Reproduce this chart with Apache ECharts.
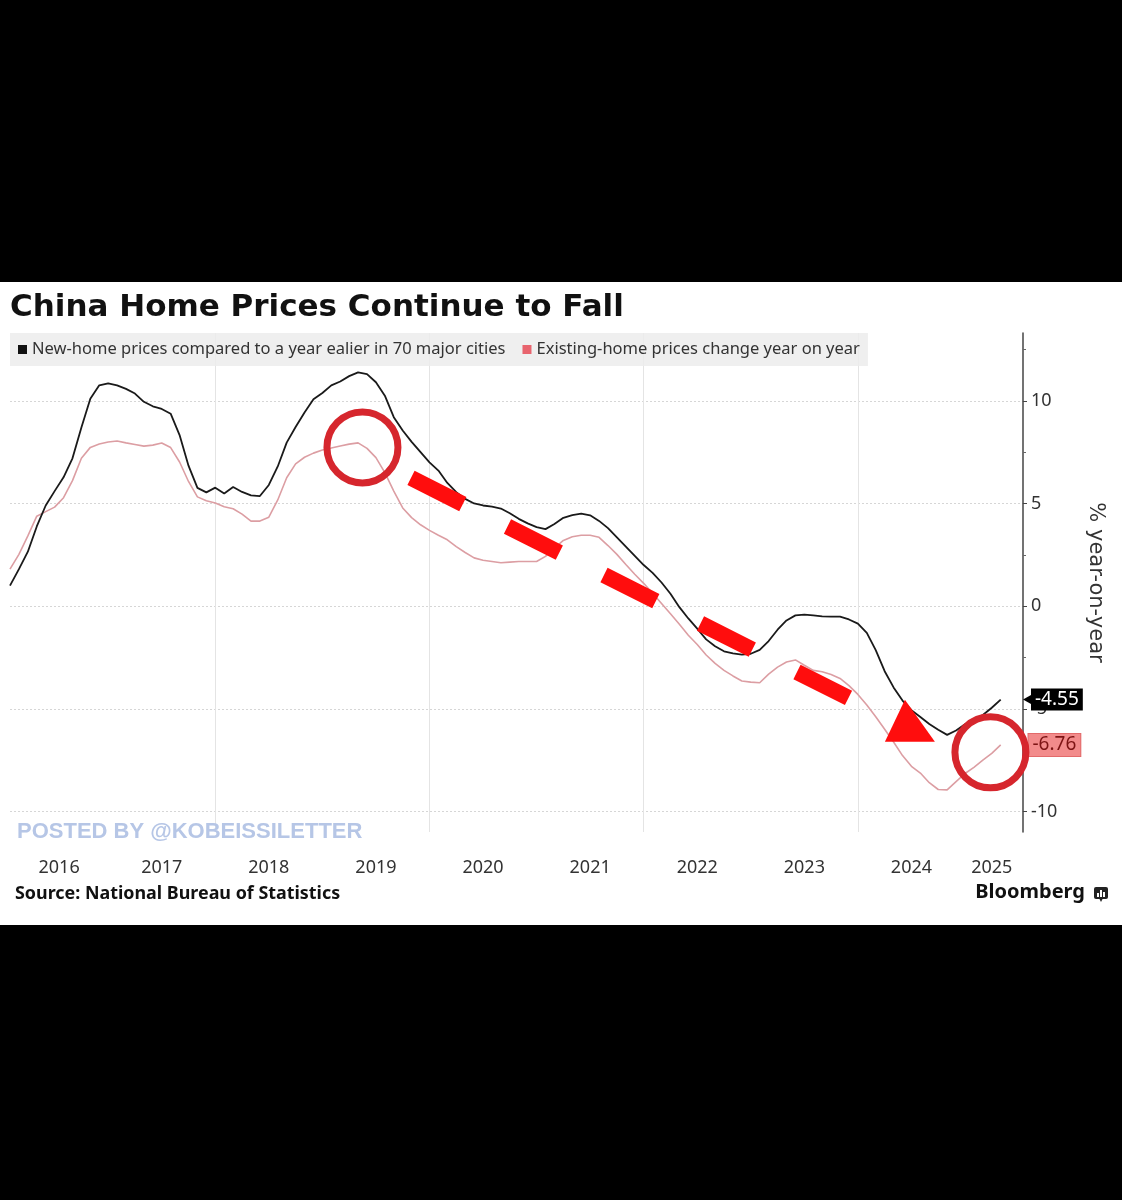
<!DOCTYPE html>
<html>
<head>
<meta charset="utf-8">
<title>China Home Prices Continue to Fall</title>
<script src="https://cdn.jsdelivr.net/npm/echarts@6/dist/echarts.min.js"></script>
<style>
  html, body { margin: 0; padding: 0; background: #000; }
  #page { position: relative; width: 1122px; height: 1200px; background: #000; }
  #main { position: absolute; left: 0; top: 282px; width: 1122px; height: 643px; background: #fff; }
</style>
</head>
<body>
<div id="page"><div id="main"></div></div>
<script>
// x = months counted from Jan 2016 (0), first point is Feb 2016
const firstMonth = 1;
const xMax = 114.5;

// new-home prices, % yoy, 70 major cities
const newHome = [
  1.0, 1.8, 2.65, 3.88, 4.9, 5.6, 6.27, 7.2, 8.7, 10.1,
  10.75, 10.85, 10.75, 10.58, 10.35, 9.95, 9.73, 9.6, 9.37, 8.33,
  6.84, 5.76, 5.54, 5.77, 5.48, 5.8, 5.56, 5.39, 5.36, 5.9,
  6.8, 7.96, 8.72, 9.43, 10.07, 10.38, 10.75, 10.94, 11.2, 11.38,
  11.3, 10.9, 10.25, 9.2, 8.55, 8.0, 7.5, 7.0, 6.6, 6.0,
  5.55, 5.22, 5.0, 4.9, 4.84, 4.75, 4.52, 4.25, 4.03, 3.85,
  3.75, 4.0, 4.3, 4.43, 4.5, 4.42, 4.15, 3.8, 3.35, 2.9,
  2.45, 2.0, 1.62, 1.15, 0.6, -0.05, -0.6, -1.1, -1.62, -1.95,
  -2.2, -2.3, -2.36, -2.32, -2.13, -1.7, -1.15, -0.7, -0.45, -0.41,
  -0.45, -0.5, -0.51, -0.51, -0.65, -0.85, -1.3, -2.14, -3.17, -3.96,
  -4.6, -5.07, -5.4, -5.74, -6.02, -6.27, -6.06, -5.75, -5.53, -5.3,
  -4.95, -4.55
];

// existing-home prices, % yoy
const existingHome = [
  1.8, 2.52, 3.42, 4.38, 4.6, 4.82, 5.28, 6.11, 7.2, 7.73,
  7.89, 7.99, 8.04, 7.95, 7.87, 7.79, 7.84, 7.94, 7.72, 7.02,
  6.07, 5.32, 5.13, 5.02, 4.84, 4.74, 4.48, 4.14, 4.14, 4.33,
  5.17, 6.25, 6.93, 7.25, 7.45, 7.6, 7.7, 7.8, 7.89, 7.95,
  7.68, 7.23, 6.5, 5.6, 4.78, 4.31, 3.96, 3.69, 3.45, 3.23,
  2.9, 2.61, 2.35, 2.23, 2.17, 2.11, 2.14, 2.17, 2.17, 2.17,
  2.42, 2.82, 3.2, 3.38, 3.45, 3.45, 3.35, 2.95, 2.52, 2.03,
  1.55, 1.11, 0.63, 0.13, -0.37, -0.88, -1.42, -1.87, -2.38, -2.79,
  -3.13, -3.4, -3.65, -3.7, -3.73, -3.31, -2.97, -2.72, -2.62, -2.88,
  -3.13, -3.2, -3.33, -3.52, -3.87, -4.3, -4.82, -5.39, -6.0, -6.62,
  -7.28, -7.8, -8.13, -8.6, -8.93, -8.95, -8.55, -8.15, -7.85, -7.5,
  -7.17, -6.76
];

const yearLabelMonths = [6.5, 18, 30, 42, 54, 66, 78, 90, 102, 111];
const yearLineMonths = [24, 48, 72, 96];
const yTicks = [-10, -5, 0, 5, 10];
const yMinorTicks = [-7.5, -2.5, 2.5, 7.5, 12.5];

// the red hand-drawn marks, in chart units [month, %]
const circleMarks = [[40.49, 7.73], [110.85, -7.12]];
const arrowLine = [[45.93, 6.24], [94.95, -4.47]];
const arrowHead = [[99.03, -6.61], [101.27, -4.56], [104.63, -6.61]];

const pairs = arr => arr.map((v, i) => [firstMonth + i, v]);
const lastOf = arr => arr[arr.length - 1];

const chart = echarts.init(document.getElementById('main'));

chart.setOption({
  animation: false,
  backgroundColor: '#fff',
  textStyle: { fontFamily: 'Noto Sans' },
  title: {
    text: 'China Home Prices Continue to Fall',
    left: 10, top: 10, padding: 0,
    textStyle: { fontSize: 31, fontWeight: 'bold', color: '#111', fontFamily: 'DejaVu Sans' }
  },
  legend: {
    left: 10, top: 51,
    padding: [8, 8, 8, 8],
    backgroundColor: 'rgba(236,236,236,0.85)',
    icon: 'rect', itemWidth: 9, itemHeight: 9, itemGap: 17,
    textStyle: { fontSize: 16.5, color: '#333', fontFamily: 'Noto Sans' },
    data: ['New-home prices compared to a year ealier in 70 major cities', 'Existing-home prices change year on year']
  },
  grid: { left: 10, right: 99, top: 51, bottom: 93 },
  xAxis: {
    type: 'value', min: firstMonth, max: xMax,
    axisLine: { show: false },
    axisTick: { show: false, customValues: yearLineMonths },
    axisLabel: {
      customValues: yearLabelMonths,
      formatter: v => String(2016 + Math.floor(v / 12)),
      margin: 27, fontSize: 18, color: '#333'
    },
    splitLine: { show: true, lineStyle: { color: '#e4e4e4', width: 1 } }
  },
  yAxis: [{
    type: 'value', position: 'right', min: -11, max: 13.3,
    name: '% year-on-year', nameLocation: 'middle', nameRotate: -90, nameGap: 62,
    nameTextStyle: { fontSize: 21, color: '#333', fontFamily: 'DejaVu Sans' },
    axisLine: { show: true, lineStyle: { color: '#444', width: 1.5 } },
    axisTick: { show: true, length: 4, customValues: yTicks, lineStyle: { color: '#444' } },
    axisLabel: { customValues: yTicks, margin: 8, fontSize: 18, color: '#333' },
    splitLine: { show: true, lineStyle: { color: '#d6d6d6', type: [2, 2] } }
  }, {
    type: 'value', position: 'right', min: -11, max: 13.3,
    axisLine: { show: false },
    axisTick: { show: true, length: 3, customValues: yMinorTicks, lineStyle: { color: '#666' } },
    axisLabel: { show: false },
    splitLine: { show: false }
  }],
  series: [{
    name: 'New-home prices compared to a year ealier in 70 major cities',
    type: 'line', showSymbol: false, z: 3,
    data: pairs(newHome),
    itemStyle: { color: '#111' },
    lineStyle: { color: '#1a1a1a', width: 1.8 },
    markPoint: {
      silent: true,
      symbol: 'triangle', symbolSize: [9, 8], symbolRotate: 90, symbolOffset: [4, 0],
      itemStyle: { color: '#000' },
      label: {
        show: true, position: 'right', distance: 0,
        formatter: p => p.value.toFixed(2),
        backgroundColor: '#000', color: '#fff', fontSize: 19, padding: [2, 4, 1, 4]
      },
      data: [{ coord: [xMax, lastOf(newHome)], value: lastOf(newHome) }]
    }
  }, {
    name: 'Existing-home prices change year on year',
    type: 'line', showSymbol: false, z: 2,
    data: pairs(existingHome),
    itemStyle: { color: '#e8646e' },
    lineStyle: { color: '#dc9ea3', width: 1.6 },
    markPoint: {
      silent: true,
      symbol: 'rect', symbolSize: 1,
      itemStyle: { color: '#f28b8b' },
      label: {
        show: true, position: 'right', distance: 5,
        formatter: p => p.value.toFixed(2),
        backgroundColor: '#f28b8b', borderColor: '#e26a6a', borderWidth: 1,
        color: '#7d1414', fontSize: 19, padding: [2, 4, 1, 4]
      },
      data: [{ coord: [xMax, lastOf(existingHome)], value: lastOf(existingHome) }]
    }
  }],
  graphic: [
    { type: 'text', left: 17, top: 539, z: 50,
      style: { text: 'POSTED BY @KOBEISSILETTER', font: 'bold 22px "Liberation Sans"', fill: '#b6c6e6' } },
    { type: 'text', left: 15, top: 603,
      style: { text: 'Source: National Bureau of Statistics', font: 'bold 17.9px "Noto Sans"', fill: '#111' } },
    { type: 'text', right: 37, top: 600,
      style: { text: 'Bloomberg', font: 'bold 20px "Noto Sans"', fill: '#111' } },
    { type: 'group', left: 1094, top: 605, children: [
      { type: 'rect', shape: { x: 0, y: 0, width: 14, height: 12, r: 2 }, style: { fill: '#222' } },
      { type: 'polygon', shape: { points: [[5, 11], [9, 11], [7, 15]] }, style: { fill: '#222' } },
      { type: 'rect', shape: { x: 3, y: 6, width: 2, height: 4 }, style: { fill: '#fff' } },
      { type: 'rect', shape: { x: 6, y: 3, width: 2, height: 7 }, style: { fill: '#fff' } },
      { type: 'rect', shape: { x: 9, y: 5, width: 2, height: 5 }, style: { fill: '#fff' } }
    ] }
  ]
});

// red annotations placed through the chart's own scales
const toPx = p => chart.convertToPixel({ seriesIndex: 0 }, p);
const a0 = toPx(arrowLine[0]);
const a1 = toPx(arrowLine[1]);
const marks = circleMarks.map(c => {
  const p = toPx(c);
  return { type: 'circle', z: 100, silent: true,
    shape: { cx: p[0], cy: p[1], r: 35.5 },
    style: { fill: 'none', stroke: '#d6262d', lineWidth: 7 } };
});
marks.push({ type: 'line', z: 100, silent: true,
  shape: { x1: a0[0], y1: a0[1], x2: a1[0], y2: a1[1] },
  style: { stroke: '#ff0d0d', lineWidth: 16, lineDash: [58, 50], lineCap: 'butt' } });
marks.push({ type: 'polygon', z: 100, silent: true,
  shape: { points: arrowHead.map(toPx) },
  style: { fill: '#ff0d0d' } });

const opt = chart.getOption();
chart.setOption({ graphic: opt.graphic[0].elements.concat(marks) });
</script>
</body>
</html>
